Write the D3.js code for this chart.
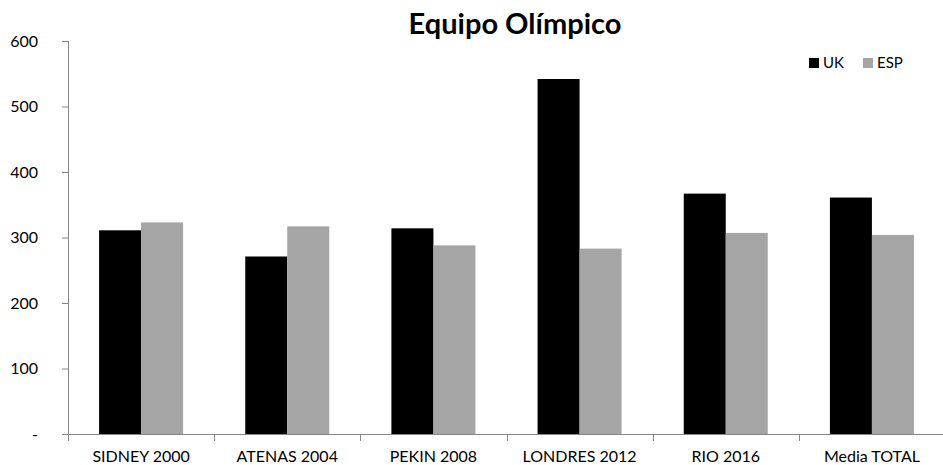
<!DOCTYPE html>
<html lang="es">
<head>
  <meta charset="UTF-8">
  <title>Equipo Olímpico - D3</title>
  <script src="https://d3js.org/d3.v7.min.js"></script>
  <style>
    body {
      margin: 0;
      font-family: Lato, "Open Sans", sans-serif;
      background: #fff;
    }

    .graph-title {
      font-size: 29px;
      font-weight: bold;
      text-anchor: middle;
    }

    .axis text {
      font-family: Lato, sans-serif;
      font-size: 16px;
      fill: #000;
    }

    .axis path,
    .axis line {
      stroke: #868686;
    }

    .legend-label {
      font-size: 15px;
    }
  </style>
</head>
<body>

<script>
  // Datos
  var categories = ["SIDNEY 2000", "ATENAS 2004", "PEKIN 2008", "LONDRES 2012", "RIO 2016", "Media TOTAL"];
  var seriesNames = ["UK", "ESP"];
  var ukValues = [311, 271, 314, 542, 367, 361];
  var espValues = [323, 317, 288, 283, 307, 304];
  var yTicks = [0, 100, 200, 300, 400, 500, 600];
  var colors = { UK: "#000000", ESP: "#a5a5a5" };

  var rows = categories.map(function (c, i) {
    return { cat: c, UK: ukValues[i], ESP: espValues[i] };
  });

  // Márgenes y dimensiones
  var margin = { top: 41, right: 0, bottom: 31, left: 68 },
      width = 943 - margin.left - margin.right + 2,
      height = 465 - margin.top - margin.bottom;

  var svg = d3.select("body")
              .append("svg")
              .attr("width", 943)
              .attr("height", 465)
              .append("g")
              .attr("transform", `translate(${margin.left},${margin.top})`);

  // Escalas
  var x0 = d3.scaleBand()
             .domain(categories)
             .range([0, width])
             .padding(0);

  var x1 = d3.scaleBand()
             .domain(seriesNames)
             .range([0, x0.bandwidth()])
             .paddingInner(0)
             .paddingOuter(0.74);

  var y = d3.scaleLinear()
            .domain([0, 600])
            .range([height, 0]);

  // Título
  svg.append("text")
     .attr("class", "graph-title")
     .attr("x", 515 - margin.left)
     .attr("y", -7)
     .text("Equipo Olímpico");

  // Barras
  var groups = svg.selectAll(".group")
                  .data(rows)
                  .enter()
                  .append("g")
                  .attr("class", "group")
                  .attr("transform", d => `translate(${x0(d.cat)},0)`);

  groups.selectAll("rect")
        .data(d => seriesNames.map(k => ({ key: k, value: d[k] })))
        .enter()
        .append("rect")
        .attr("x", d => x1(d.key))
        .attr("y", d => y(d.value))
        .attr("width", x1.bandwidth())
        .attr("height", d => height - y(d.value))
        .attr("fill", d => colors[d.key]);

  // Eje Y
  var yAxis = svg.append("g")
     .attr("class", "axis")
     .call(d3.axisLeft(y)
             .tickValues(yTicks)
             .tickSize(6)
             .tickPadding(24)
             .tickSizeOuter(0)
             .tickFormat(d => d === 0 ? "-" : d));
  yAxis.select(".domain").attr("d", `M0.5,0V${height}`);

  // Eje X
  var xAxisG = svg.append("g")
     .attr("class", "axis")
     .attr("transform", `translate(0,${height})`)
     .call(d3.axisBottom(x0).tickSize(0).tickPadding(17));

  // Marcas entre categorías
  xAxisG.selectAll(".sep")
        .data(d3.range(categories.length + 1))
        .enter()
        .append("line")
        .attr("class", "sep")
        .attr("x1", i => Math.round(i * x0.step()) + 0.5)
        .attr("x2", i => Math.round(i * x0.step()) + 0.5)
        .attr("y1", 0)
        .attr("y2", 7);

  // Leyenda
  var legend = svg.append("g")
                  .attr("transform", `translate(${809 - margin.left},${58 - margin.top})`);

  var items = legend.selectAll(".item")
                    .data(seriesNames)
                    .enter()
                    .append("g")
                    .attr("transform", (d, i) => `translate(${i * 54},0)`);

  items.append("rect")
       .attr("width", 10)
       .attr("height", 10)
       .attr("fill", d => colors[d]);

  items.append("text")
       .attr("class", "legend-label")
       .attr("x", 14)
       .attr("y", 10)
       .text(d => d);
</script>

</body>
</html>
